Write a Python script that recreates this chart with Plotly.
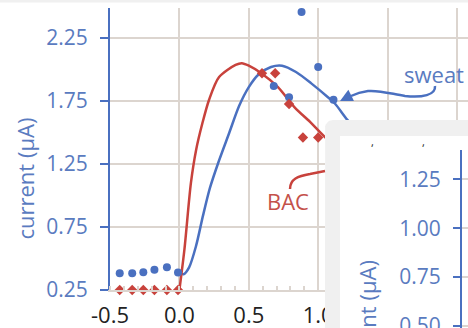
import numpy as np
import plotly.graph_objects as go

# ---------------- data ----------------
sweat_pts_x = [-0.43, -0.34, -0.26, -0.18, -0.09, -0.01, 0.68, 0.79, 0.88, 1.00, 1.11]
sweat_pts_y = [0.382, 0.382, 0.39, 0.41, 0.43, 0.388, 1.87, 1.78, 2.456, 2.02, 1.76]

bac_pts_x = [-0.43, -0.34, -0.26, -0.18, -0.09, -0.01, 0.595, 0.69, 0.79, 0.89, 1.00]
bac_pts_y = [0.25, 0.25, 0.25, 0.25, 0.25, 0.25, 1.97, 1.97, 1.726, 1.46, 1.46]

sweat_fit_x = [0.0, 0.03, 0.07, 0.12, 0.17, 0.22, 0.28, 0.36, 0.43, 0.50, 0.57, 0.66, 0.74, 0.84, 0.95, 1.07, 1.12, 1.21, 1.40]
sweat_fit_y = [0.385, 0.375, 0.43, 0.60, 0.84, 1.06, 1.26, 1.50, 1.71, 1.86, 1.96, 2.02, 2.03, 1.98, 1.89, 1.78, 1.73, 1.60, 1.35]

bac_fit_x = [0.0, 0.036, 0.083, 0.12, 0.166, 0.214, 0.286, 0.405, 0.45, 0.50, 0.59, 0.71, 0.83, 0.95, 1.02, 1.20]
bac_fit_y = [0.25, 0.57, 1.10, 1.36, 1.575, 1.76, 1.94, 2.036, 2.05, 2.03, 1.97, 1.86, 1.70, 1.575, 1.495, 1.30]

x_tickvals = [-0.5, 0.0, 0.5, 1.0, 1.5, 2.0]
x_ticktext = ["-0.5", "0.0", "0.5", "1.0", "1.5", "2.0"]
y_tickvals = [0.25, 0.75, 1.25, 1.75, 2.25]
inset_y_tickvals = [0.50, 0.75, 1.00, 1.25]

# ---------------- styles ----------------
W, H = 468, 328
BLUE = "#4a70c0"
BLUE_TXT = "#5a7bc0"
RED = "#c8423c"
RED_TXT = "#c4514a"
GRID = "#dcd5cf"
PANEL = "#f0f0f0"
FONT = "Open Sans"


def px(xp, yp):
    """pixel position -> paper fraction"""
    return xp / W, (H - yp) / H


fig = go.Figure()

# main subplot traces
fig.add_trace(go.Scatter(x=sweat_fit_x, y=sweat_fit_y, mode="lines",
                         line=dict(color=BLUE, width=2.5, shape="spline", smoothing=0.8),
                         xaxis="x", yaxis="y", hoverinfo="skip"))
fig.add_trace(go.Scatter(x=bac_fit_x, y=bac_fit_y, mode="lines",
                         line=dict(color=RED, width=2.5, shape="spline", smoothing=0.8),
                         xaxis="x", yaxis="y", hoverinfo="skip"))
fig.add_trace(go.Scatter(x=sweat_pts_x, y=sweat_pts_y, mode="markers",
                         marker=dict(color=BLUE, size=8, symbol="circle"),
                         cliponaxis=False, xaxis="x", yaxis="y"))
fig.add_trace(go.Scatter(x=bac_pts_x, y=bac_pts_y, mode="markers",
                         marker=dict(color=RED, size=8, symbol="diamond"),
                         cliponaxis=False, xaxis="x", yaxis="y"))

# inset panel (drawn in its own subplot so it covers the main plot)
pl, pt, il, it = 325, 120, 340, 136
r = 8
ang = np.linspace(np.pi, np.pi / 2, 8)
gx = [pl] + list(pl + r + r * np.cos(ang)) + [W, W, pl]
gy = [H] + list(pt + r - r * np.sin(ang)) + [pt, H, H]
fig.add_trace(go.Scatter(x=gx, y=gy, mode="lines", fill="toself", fillcolor=PANEL,
                         line=dict(width=0, color=PANEL), xaxis="x2", yaxis="y2",
                         hoverinfo="skip"))
fig.add_trace(go.Scatter(x=[il, W, W, il, il], y=[it, it, H, H, it], mode="lines",
                         fill="toself", fillcolor="white", line=dict(width=0, color="white"),
                         xaxis="x2", yaxis="y2", hoverinfo="skip"))
# dummy trace for inset axis
fig.add_trace(go.Scatter(x=[0.5], y=[1.0], mode="markers", marker=dict(opacity=0),
                         xaxis="x3", yaxis="y3", hoverinfo="skip"))

# main axes geometry
x0px, x1px = 110, W
y0px, y1px = 290, 8
xs = 138.8
ys = 126.0
xr = [-0.5, -0.5 + (x1px - x0px) / xs]
yr = [0.25, 0.25 + (y0px - y1px) / ys]

fig.update_layout(
    width=W, height=H, autosize=False,
    margin=dict(l=0, r=0, t=0, b=0, pad=0, autoexpand=False),
    paper_bgcolor="white", plot_bgcolor="white",
    showlegend=False,
    font=dict(family=FONT),
    xaxis=dict(domain=[x0px / W, 1], range=xr, tickvals=x_tickvals, ticktext=x_ticktext,
               showgrid=True, gridcolor=GRID, gridwidth=2, automargin=False,
               showline=True, linecolor=GRID, linewidth=2,
               ticks="", ticklabelstandoff=5, ticklabeloverflow="allow",
               tickfont=dict(size=22, color="#222222", family=FONT),
               minor=dict(dtick=0.1, ticks="inside", ticklen=4, tickwidth=1.5,
                          tickcolor=GRID, showgrid=False),
               zeroline=False, fixedrange=True),
    yaxis=dict(domain=[(H - y0px) / H, (H - y1px) / H], range=yr, tickvals=y_tickvals,
               tickformat=".2f", automargin=False,
               showgrid=True, gridcolor=GRID, gridwidth=2,
               showline=True, linecolor=BLUE, linewidth=2,
               ticks="outside", ticklen=8, tickwidth=2, tickcolor=BLUE,
               ticklabelstandoff=8, ticklabeloverflow="allow",
               tickfont=dict(size=21, color=BLUE_TXT, family=FONT),
               zeroline=False, fixedrange=True),
    xaxis2=dict(domain=[pl / W, 1], range=[pl, W], visible=False, fixedrange=True,
                automargin=False),
    yaxis2=dict(domain=[0, (H - pt) / H], range=[H, pt], visible=False, anchor="x2",
                fixedrange=True, automargin=False),
    xaxis3=dict(domain=[462 / W, 1], range=[0, 1], visible=False, fixedrange=True,
                automargin=False),
    yaxis3=dict(domain=[0, (H - 150) / H], range=[0.49, 1.40], anchor="x3",
                tickvals=inset_y_tickvals, tickformat=".2f", automargin=False,
                showgrid=True, gridcolor=GRID, gridwidth=2,
                showline=True, linecolor=BLUE, linewidth=2,
                ticks="outside", ticklen=7, tickwidth=2, tickcolor=BLUE,
                ticklabelstandoff=8, ticklabeloverflow="allow",
                tickfont=dict(size=21, color=BLUE_TXT, family=FONT),
                zeroline=False, fixedrange=True),
)

# top grey strip
fig.add_shape(type="rect", xref="paper", yref="paper", x0=0, x1=1, y0=(H - 2.5) / H, y1=1,
              fillcolor=PANEL, line=dict(width=0), layer="above")

# curved connector for "sweat"
def pth(pts):
    s = ""
    for cmd, p in pts:
        s += cmd + " " + " ".join(f"{px(a, b)[0]:.5f},{px(a, b)[1]:.5f}" for a, b in p) + " "
    return s.strip()

sweat_path = pth([("M", [(435, 86)]),
                  ("C", [(436, 95), (422, 98), (405, 96)]),
                  ("C", [(392, 94), (380, 90), (368, 91)]),
                  ("C", [(360, 92), (355, 94), (351, 96)])])
fig.add_shape(type="path", xref="paper", yref="paper", path=sweat_path,
              line=dict(color=BLUE, width=2.5), layer="above")
tipx, tipy = px(340, 101)
fig.add_annotation(xref="paper", yref="paper", x=tipx, y=tipy, ax=12, ay=-6,
                   axref="pixel", ayref="pixel", text="", showarrow=True,
                   arrowhead=2, arrowsize=1, arrowwidth=2.5, arrowcolor=BLUE)

bac_path = pth([("M", [(290, 189)]),
                ("C", [(290, 179), (298, 176), (310, 174)]),
                ("L", [(325, 171)])])
fig.add_shape(type="path", xref="paper", yref="paper", path=bac_path,
              line=dict(color=RED, width=2.5), layer="above")

sx, sy = px(434, 74)
fig.add_annotation(xref="paper", yref="paper", x=sx, y=sy, text="sweat", showarrow=False,
                   xanchor="center", yanchor="middle",
                   font=dict(size=22, color=BLUE_TXT, family=FONT))
bx, by = px(288, 201)
fig.add_annotation(xref="paper", yref="paper", x=bx, y=by, text="BAC", showarrow=False,
                   xanchor="center", yanchor="middle",
                   font=dict(size=22, color=RED_TXT, family=FONT))

# axis titles
tx, ty = px(24, 178.5)
fig.add_annotation(xref="paper", yref="paper", x=tx, y=ty, text="current (µA)",
                   textangle=-90, showarrow=False, xanchor="center", yanchor="middle",
                   font=dict(size=22, color=BLUE_TXT, family=FONT))
ix, iy = px(367, 321)
fig.add_annotation(xref="paper", yref="paper", x=ix, y=iy, text="current (µA)",
                   textangle=-90, showarrow=False, xanchor="center", yanchor="middle",
                   font=dict(size=22, color=BLUE_TXT, family=FONT))

# cut-off fragments of the inset's title line
for fx in (372, 423):
    ax_, ay_ = px(fx, 141)
    fig.add_annotation(xref="paper", yref="paper", x=ax_, y=ay_, text=",", showarrow=False,
                       xanchor="center", yanchor="middle",
                       font=dict(size=11, color="#222222", family=FONT))

fig.write_html("out.html", config={"displayModeBar": False},
               post_script="document.body.style.margin='0';document.body.style.overflow='hidden';")
